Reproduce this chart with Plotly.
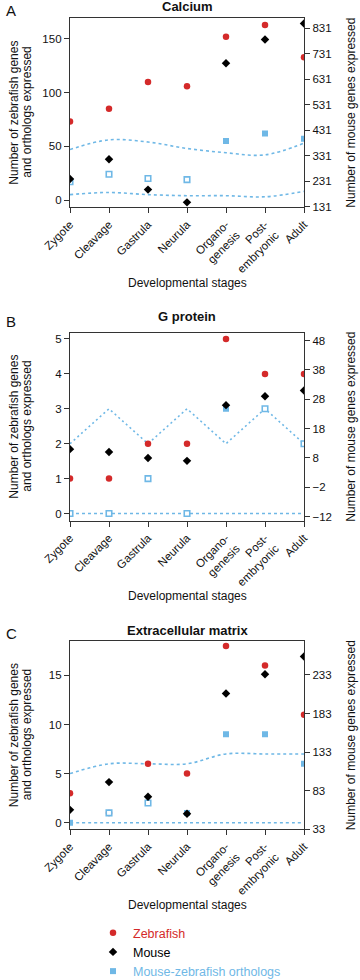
import plotly.graph_objects as go

# ---------------- data ----------------
stages = ["Zygote", "Cleavage", "Gastrula", "Neurula", "Organo-<br>genesis",
          "Post-<br>embryonic", "Adult"]

panel_titles = ["Calcium", "G protein", "Extracellular matrix"]
panel_letters = ["A", "B", "C"]

# Calcium
ca_zebrafish = [73, 85, 110, 106, 152, 163, 133]
ca_mouse = [240, 317, 198, 148, 694, 787, 850]
ca_orthologs = [17, 24, 20, 19, 55, 62, 57]
ca_filled = [False, False, False, False, True, True, True]
ca_upper = [47, 56, 54, 48, 44, 42, 53]
ca_lower = [5, 7, 5, 4, 4, 3, 8]

# G protein
gp_zebrafish = [1, 1, 2, 2, 5, 4, 4]
gp_mouse = [11, 10, 8, 7, 26, 29, 31]
gp_orthologs = [0, 0, 1, 0, 3, 3, 2]
gp_filled = [False, False, False, False, True, False, False]
gp_upper = [2, 3, 2, 3, 2, 3, 2]
gp_lower = [0, 0, 0, 0, 0, 0, 0]

# Extracellular matrix
ecm_zebrafish = [3, 1, 6, 5, 18, 16, 11]
ecm_mouse = [58, 94, 75, 53, 209, 234, 257]
ecm_orthologs = [0, 1, 2, 1, 9, 9, 6]
ecm_filled = [True, False, False, True, True, True, True]
ecm_upper = [5, 6, 6, 6, 7, 7, 7]
ecm_lower = [0, 0, 0, 0, 0, 0, 0]

left_ticks = [[0, 50, 100, 150], [0, 1, 2, 3, 4, 5], [0, 5, 10, 15]]
right_ticks = [[131, 231, 331, 431, 531, 631, 731, 831],
               [-12, -2, 8, 18, 28, 38, 48],
               [33, 83, 133, 183, 233]]

# ---------------- styling ----------------
W, H = 360, 980


def px(x):
    return x / W


def py(y):
    return 1 - y / H


RED = "#d42a2a"
BLUE = "#6fb8e6"
BLACK = "#000000"
AXC = "#333333"
FONT = "Liberation Sans, Arial, sans-serif"

left_ranges = [[-6.8, 169.5], [-0.206, 5.18], [-0.67, 18.5]]
right_ranges = [[128.6, 871.4], [-13.4, 50.7], [32.8, 277]]
line_shapes = ["spline", "linear", "spline"]
upper_dash = ["3px,3px", "2px,3px", "3px,3px"]
# plot-area pixel boxes (top, bottom)
boxes = [(18, 207.3), (332.7, 520.7), (641, 829.3)]
x_left, x_right = 70, 304
xtitle_y = [283, 596, 905]
title_y = [7, 316, 630]
letter_y = [10, 322, 633]

panels = [
    (ca_zebrafish, ca_mouse, ca_orthologs, ca_filled, ca_upper, ca_lower),
    (gp_zebrafish, gp_mouse, gp_orthologs, gp_filled, gp_upper, gp_lower),
    (ecm_zebrafish, ecm_mouse, ecm_orthologs, ecm_filled, ecm_upper, ecm_lower),
]

x_vals = list(range(len(stages)))

fig = go.Figure()
layout = {}
annotations = []

for i, (zf, ms, orth, filled, up, lo) in enumerate(panels):
    xa = "x" if i == 0 else f"x{i + 1}"
    yl = f"y{2 * i + 1}" if i > 0 else "y"
    yr = f"y{2 * i + 2}"
    first = i == 0

    # expected range lines
    fig.add_trace(go.Scatter(x=x_vals, y=up, mode="lines", xaxis=xa, yaxis=yl,
                             line=dict(color=BLUE, width=1.6, dash=upper_dash[i],
                                       shape=line_shapes[i]),
                             showlegend=False, hoverinfo="skip"))
    fig.add_trace(go.Scatter(x=x_vals, y=lo, mode="lines", xaxis=xa, yaxis=yl,
                             line=dict(color=BLUE, width=1.6, dash="3px,3px",
                                       shape=line_shapes[i]),
                             showlegend=False, hoverinfo="skip"))
    # zebrafish
    fig.add_trace(go.Scatter(x=x_vals, y=zf, mode="markers", xaxis=xa, yaxis=yl,
                             marker=dict(symbol="circle", size=6.5, color=RED),
                             name=f'<span style="color:{RED}">Zebrafish</span>',
                             showlegend=first, legendrank=1))
    # mouse (right axis)
    fig.add_trace(go.Scatter(x=x_vals, y=ms, mode="markers", xaxis=xa, yaxis=yr,
                             marker=dict(symbol="diamond", size=6.5, color=BLACK),
                             name='<span style="color:#000000">Mouse</span>',
                             showlegend=first, legendrank=2))
    # orthologs filled / open
    fx = [x for x, f in zip(x_vals, filled) if f]
    fy = [v for v, f in zip(orth, filled) if f]
    ox = [x for x, f in zip(x_vals, filled) if not f]
    oy = [v for v, f in zip(orth, filled) if not f]
    fig.add_trace(go.Scatter(x=fx, y=fy, mode="markers", xaxis=xa, yaxis=yl,
                             marker=dict(symbol="square", size=6, color=BLUE),
                             name=f'<span style="color:{BLUE}">Mouse-zebrafish orthologs</span>',
                             showlegend=first, legendrank=3))
    fig.add_trace(go.Scatter(x=ox, y=oy, mode="markers", xaxis=xa, yaxis=yl,
                             marker=dict(symbol="square", size=5.5, color="white",
                                         line=dict(color=BLUE, width=1.6)),
                             showlegend=False))

    top, bot = boxes[i]
    ydom = [py(bot), py(top)]
    xdom = [px(x_left), px(x_right)]
    xkey = "xaxis" if i == 0 else f"xaxis{i + 1}"
    ylkey = "yaxis" if i == 0 else f"yaxis{2 * i + 1}"
    yrkey = f"yaxis{2 * i + 2}"

    tickfont = dict(size=11.5, color="#111111", family=FONT)
    common = dict(ticks="outside", ticklen=5, tickwidth=1, tickcolor=AXC,
                  showline=True, linecolor=AXC, linewidth=1.3, showgrid=False,
                  zeroline=False, tickfont=tickfont, automargin=False,
                  tickmode="array")
    layout[xkey] = dict(domain=xdom, anchor=yl, range=[0, 6],
                        tickvals=x_vals, ticktext=stages, tickangle=-45,
                        mirror=True, **common)
    layout[ylkey] = dict(domain=ydom, anchor=xa, range=left_ranges[i],
                         tickvals=left_ticks[i], **common)
    layout[yrkey] = dict(overlaying=yl, side="right", anchor=xa,
                         range=right_ranges[i], tickvals=right_ticks[i], **common)

    ymid = (top + bot) / 2
    tfont = dict(size=12, color="#111111", family=FONT)
    annotations += [
        dict(text=panel_letters[i], x=px(11), y=py(letter_y[i]), xref="paper",
             yref="paper", showarrow=False, xanchor="center", yanchor="middle",
             font=dict(size=15, color="#111111", family=FONT)),
        dict(text=f"<b>{panel_titles[i]}</b>", x=px((x_left + x_right) / 2),
             y=py(title_y[i]), xref="paper", yref="paper", showarrow=False,
             xanchor="center", yanchor="middle",
             font=dict(size=13, color="#111111", family=FONT)),
        dict(text="Number of zebrafish genes", x=px(14), y=py(ymid), xref="paper",
             yref="paper", showarrow=False, textangle=-90, xanchor="center",
             yanchor="middle", font=tfont),
        dict(text="and orthologs expressed", x=px(27), y=py(ymid), xref="paper",
             yref="paper", showarrow=False, textangle=-90, xanchor="center",
             yanchor="middle", font=tfont),
        dict(text="Number of mouse genes expressed", x=px(351), y=py(ymid), xref="paper",
             yref="paper", showarrow=False, textangle=-90, xanchor="center",
             yanchor="middle", font=tfont),
        dict(text="Developmental stages", x=px((x_left + x_right) / 2),
             y=py(xtitle_y[i]), xref="paper", yref="paper", showarrow=False,
             xanchor="center", yanchor="middle", font=tfont),
    ]

fig.update_layout(
    template="none",
    width=W, height=H, margin=dict(l=0, r=0, t=0, b=0, pad=0, autoexpand=False),
    paper_bgcolor="white", plot_bgcolor="white",
    font=dict(family=FONT, size=12, color="#111111"),
    annotations=annotations,
    showlegend=True,
    hovermode=False,
    legend=dict(x=px(93), y=py(918), xanchor="left", yanchor="top",
                bgcolor="rgba(0,0,0,0)", font=dict(size=12.5, family=FONT),
                tracegroupgap=0, itemclick=False, borderwidth=0),
    **layout,
)

fig.write_html("out.html", config={"displayModeBar": False},
               post_script="document.body.style.margin='0px';")
